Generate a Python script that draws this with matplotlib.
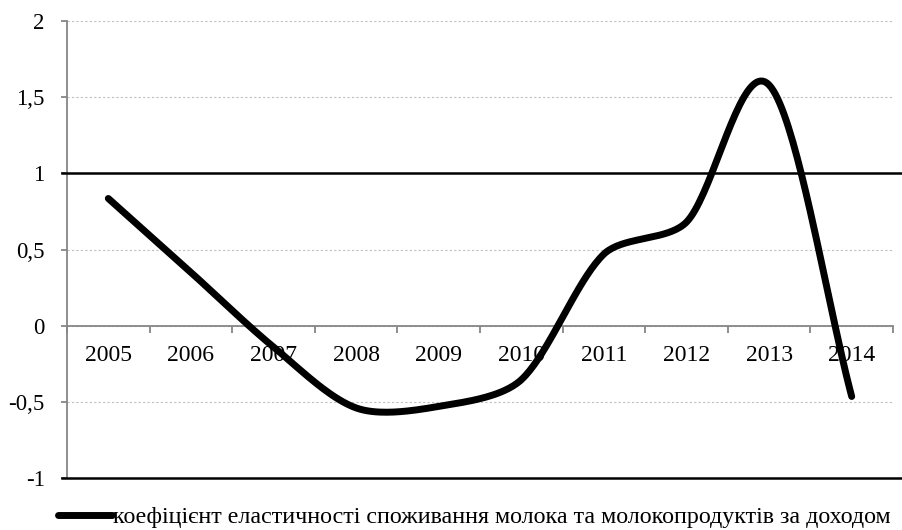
import numpy as np
import matplotlib
matplotlib.use("Agg")
import matplotlib.pyplot as plt
from matplotlib.lines import Line2D

plt.rcParams['font.family'] = ['Liberation Serif', 'DejaVu Serif']

years = ['2005', '2006', '2007', '2008', '2009', '2010', '2011', '2012', '2013', '2014']
elasticity = [0.835, 0.35, -0.14, -0.54, -0.53, -0.355, 0.47, 0.68, 1.58, -0.465]
reference_level = 1.0
series_name = 'коефіцієнт еластичності споживання молока та молокопродуктів за доходом'


def smooth_curve(xs, ys, sx, sy, k=0.3, n=40):
    # Excel-like smoothing: bezier segments, control points limited by segment length
    p = np.column_stack([np.asarray(xs) * sx, np.asarray(ys) * sy])
    m = len(p)
    tang = []
    span = []
    for i in range(m):
        if i == 0:
            d = p[1] - p[0]
        elif i == m - 1:
            d = p[-1] - p[-2]
        else:
            d = p[i + 1] - p[i - 1]
        span.append(np.hypot(*d) / 6 if 0 < i < m - 1 else np.inf)
        tang.append(d / np.hypot(*d))
    pts = []
    t = np.linspace(0, 1, n)[:, None]
    for i in range(m - 1):
        L = np.hypot(*(p[i + 1] - p[i]))
        c1 = p[i] + tang[i] * min(L * k, span[i])
        c2 = p[i + 1] - tang[i + 1] * min(L * k, span[i + 1])
        seg = ((1 - t) ** 3) * p[i] + 3 * ((1 - t) ** 2) * t * c1 + 3 * (1 - t) * t ** 2 * c2 + t ** 3 * p[i + 1]
        pts.append(seg if i == 0 else seg[1:])
    pts = np.vstack(pts)
    return pts[:, 0] / sx, pts[:, 1] / sy


fig = plt.figure(figsize=(9.02, 5.30), dpi=100)
ax = fig.add_axes([67 / 902, 1 - 478 / 530, 826 / 902, 457 / 530])

x = np.arange(len(years))
ax.set_xlim(-0.5, len(years) - 0.5)
ax.set_ylim(-1, 2)

cx, cy = smooth_curve(x, elasticity, 82.6, 152.3)
ax.plot(cx, cy, color='black', lw=5, solid_capstyle='round', zorder=4)

# dotted gridlines
ax.set_yticks(np.arange(-1, 2.01, 0.5))
ax.set_yticklabels(['-1', '-0,5', '0', '0,5', '1', '1,5', '2'])
ax.yaxis.grid(True, linestyle=(0, (2, 2)), color='#bfbfbf', lw=0.8)

# x axis sits at zero
ax.spines['bottom'].set_position(('data', 0))
ax.spines['bottom'].set_color('#868686')
ax.spines['bottom'].set_linewidth(1.3)
ax.spines['left'].set_color('#868686')
ax.spines['left'].set_linewidth(1.3)
ax.spines['top'].set_visible(False)
ax.spines['right'].set_visible(False)

ax.set_xticks(x)
ax.set_xticklabels(years)
ax.set_xticks(np.arange(-0.5, len(years)), minor=True)
ax.tick_params(axis='x', which='major', length=0, pad=14, labelsize=17)
ax.tick_params(axis='x', which='minor', length=5, width=1.3, color='#868686', direction='out')
ax.tick_params(axis='y', length=4, width=1.3, color='#868686', pad=12, labelsize=16.5)

# black reference lines at 1 and -1
for yv in (reference_level, -1):
    ax.add_line(Line2D([-0.006, 1.0097], [yv, yv], color='black', lw=1.8,
                       transform=ax.get_yaxis_transform(), clip_on=False, zorder=3))

handle = Line2D([], [], color='black', lw=5, solid_capstyle='round')
fig.legend([handle], [series_name], loc='center', bbox_to_anchor=(474 / 902, 1 - 517 / 530),
           frameon=False, fontsize=17.3, handlelength=2.25, handletextpad=0.05, borderpad=0)

fig.savefig('out.png', dpi=100)
